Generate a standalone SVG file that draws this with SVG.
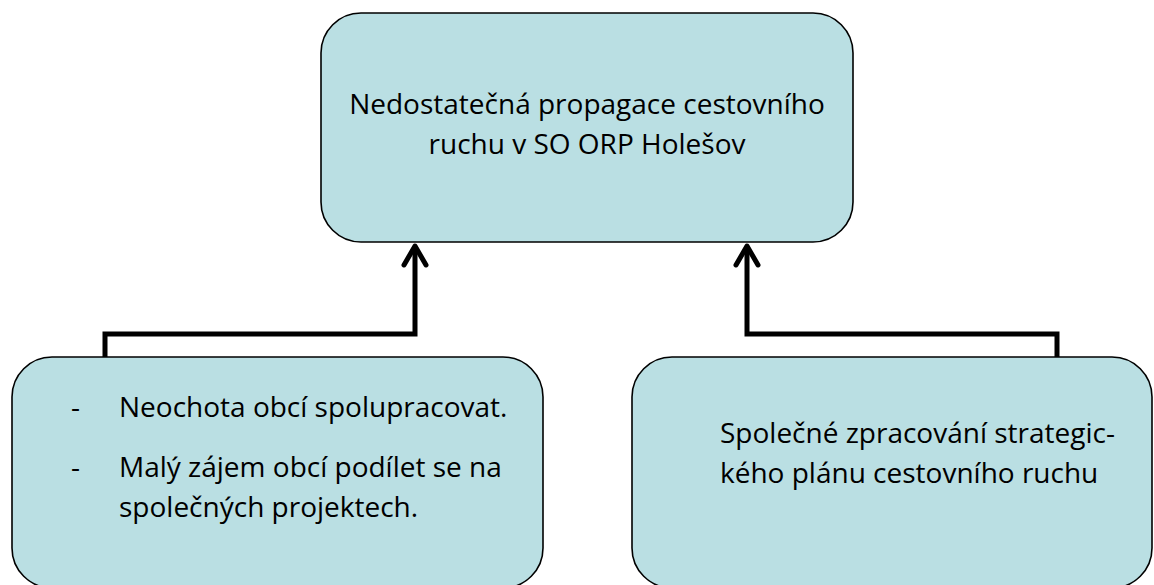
<svg xmlns="http://www.w3.org/2000/svg" width="1154" height="585" viewBox="0 0 1154 585">
<style>
.box{fill:#BADFE3;stroke:#000;stroke-width:1.6}
.t{font-family:"Open Sans","Liberation Sans",sans-serif;font-size:28px;fill:#000}
.c{fill:none;stroke:#000;stroke-width:5}
.ah{fill:none;stroke:#000;stroke-width:5;stroke-linecap:round;stroke-linejoin:round}
</style>
<rect width="1154" height="585" fill="#fff"/>
<g id="top">
<rect class="box" x="321" y="13" width="532" height="229" rx="40"/>
<text class="t" x="587" y="114" text-anchor="middle">Nedostatečná propagace cestovního</text>
<text class="t" x="587" y="154" text-anchor="middle">ruchu v SO ORP Holešov</text>
</g>
<g id="left">
<rect class="box" x="12" y="357" width="531" height="231" rx="40"/>
<text class="t" x="71" y="417">-</text>
<text class="t" x="71" y="477">-</text>
<text class="t" x="119" y="417">Neochota obcí spolupracovat.</text>
<text class="t" x="119" y="477">Malý zájem obcí podílet se na</text>
<text class="t" x="119" y="517">společných projektech.</text>
</g>
<g id="right">
<rect class="box" x="632" y="357" width="520" height="231" rx="40"/>
<text class="t" x="720" y="443">Společné zpracování strategic-</text>
<text class="t" x="720" y="483">kého plánu cestovního ruchu</text>
</g>
<g id="connectors">
<path class="c" d="M105,357 V334 H415 V246"/>
<path class="ah" d="M404,265 L415,246 L426,265"/>
<path class="c" d="M1057,357 V334 H747 V246"/>
<path class="ah" d="M736,265 L747,246 L758,265"/>
</g>
</svg>
